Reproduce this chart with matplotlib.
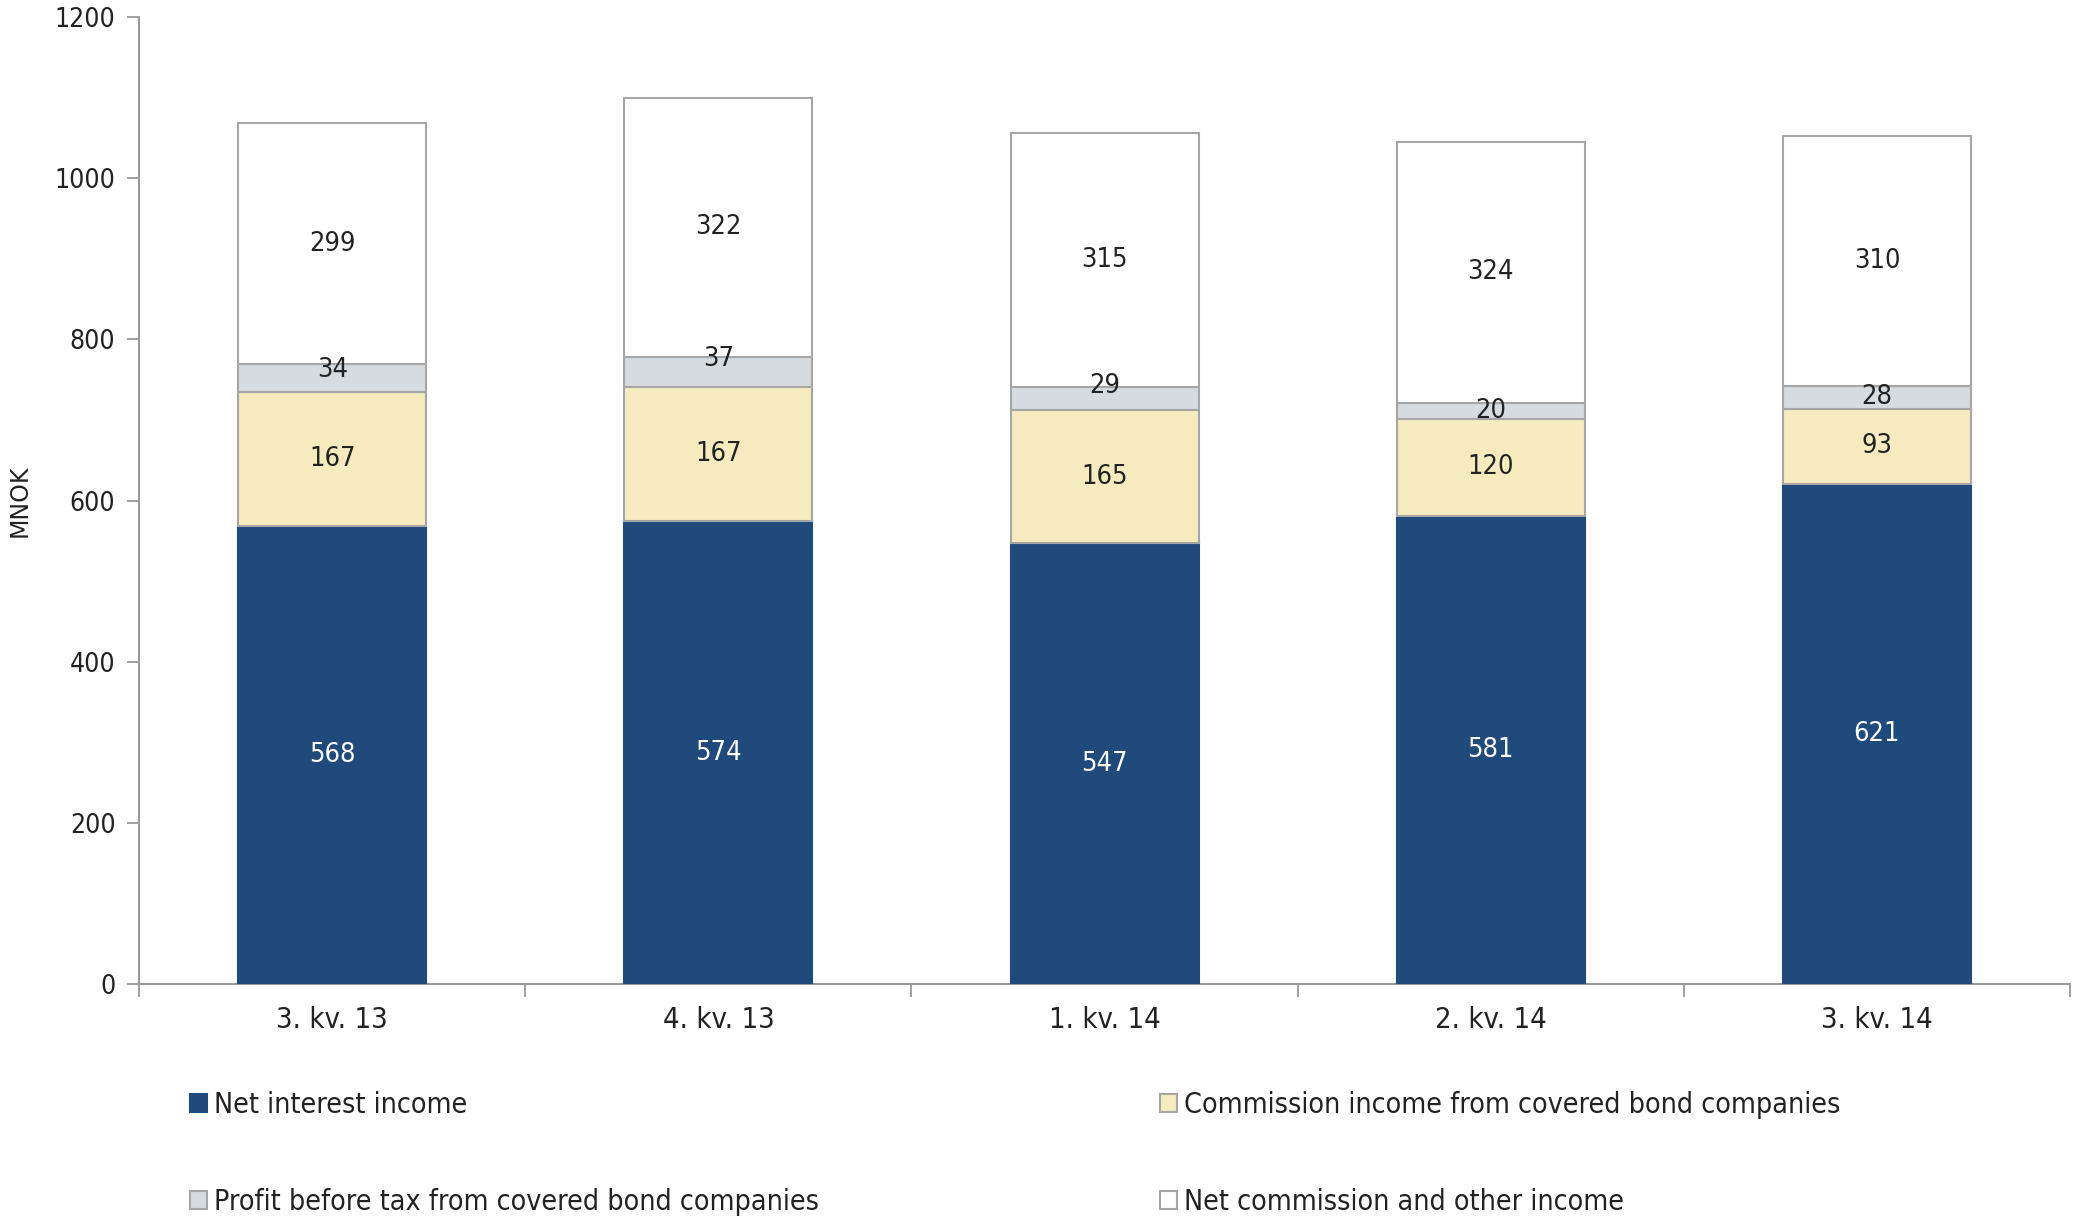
import matplotlib
matplotlib.use("Agg")
import matplotlib.pyplot as plt
from matplotlib.patches import Patch
import numpy as np

categories = ["3. kv. 13", "4. kv. 13", "1. kv. 14", "2. kv. 14", "3. kv. 14"]
net_interest = [568, 574, 547, 581, 621]
commission_cb = [167, 167, 165, 120, 93]
profit_cb = [34, 37, 29, 20, 28]
net_commission = [299, 322, 315, 324, 310]
series_names = ["Net interest income",
                "Commission income from covered bond companies",
                "Profit before tax from covered bond companies",
                "Net commission and other income"]
yticks = [0, 200, 400, 600, 800, 1000, 1200]

# label nudges (data units) used in the original for the thin grey segment
profit_label_nudge = [9.5, 16, 16, 0, 0]

colors = ["#20497C", "#F6EBBE", "#D5DBDF", "#FFFFFF"]
edges = ["#20497C", "#A6A6A6", "#A6A6A6", "#A6A6A6"]
label_colors = ["white", "#222222", "#222222", "#222222"]

plt.rcParams["font.family"] = "DejaVu Sans"
plt.rcParams["font.stretch"] = "condensed"

fig = plt.figure(figsize=(20.73, 12.18), dpi=100)
ax = fig.add_axes([0.0671, 0.1921, 0.9986 - 0.0671, 0.986 - 0.1921])

x = np.arange(len(categories))
data = [net_interest, commission_cb, profit_cb, net_commission]
nudges = [[0] * 5, [0] * 5, profit_label_nudge, [0] * 5]
bottom = np.zeros(len(categories))
handles = []
for vals, c, ec, lc, name, nd in zip(data, colors, edges, label_colors, series_names, nudges):
    vals = np.array(vals, dtype=float)
    ax.bar(x, vals, 0.487, bottom=bottom, color=c, edgecolor=ec,
           linewidth=1.5, zorder=3)
    for xi, b, v, n in zip(x, bottom, vals, nd):
        ax.text(xi, b + v / 2 + n, f"{int(v)}", ha="center", va="center",
                color=lc, fontsize=19.5, zorder=4)
    bottom += vals
    handles.append(Patch(facecolor=c, edgecolor=ec, linewidth=1.5, label=name))

ax.set_xlim(-0.5, len(categories) - 0.5)
ax.set_ylim(0, 1200)
ax.set_yticks(yticks)
ax.set_yticklabels([str(t) for t in yticks], fontsize=19, color="#222222")
ax.set_xticks(x)
ax.set_xticklabels(categories, fontsize=21, color="#222222")
ax.tick_params(axis="x", which="major", length=0, pad=16)
ax.set_xticks(np.arange(-0.5, len(categories)), minor=True)
ax.tick_params(axis="x", which="minor", length=9, width=1.3, color="#999999")
ax.tick_params(axis="y", length=9, width=1.3, color="#999999", pad=8)

for s in ["top", "right"]:
    ax.spines[s].set_visible(False)
for s in ["left", "bottom"]:
    ax.spines[s].set_color("#999999")
    ax.spines[s].set_linewidth(1.5)

fig.text(20 / 2073, (0.1921 + 0.986) / 2, "MNOK", rotation=90, ha="center",
         va="center", fontsize=17, color="#222222", fontstretch="normal")

leg_kw = dict(frameon=False, fontsize=20.5, handlelength=0.6, handleheight=0.6,
              handletextpad=0.25, labelspacing=2.4, borderaxespad=0, borderpad=0,
              labelcolor="#222222")
fig.legend([handles[0], handles[2]], [series_names[0], series_names[2]],
           loc="upper left", bbox_to_anchor=(0.0915, 0.104), **leg_kw)
fig.legend([handles[1], handles[3]], [series_names[1], series_names[3]],
           loc="upper left", bbox_to_anchor=(0.5595, 0.104), **leg_kw)

fig.savefig("out.png", dpi=100)
